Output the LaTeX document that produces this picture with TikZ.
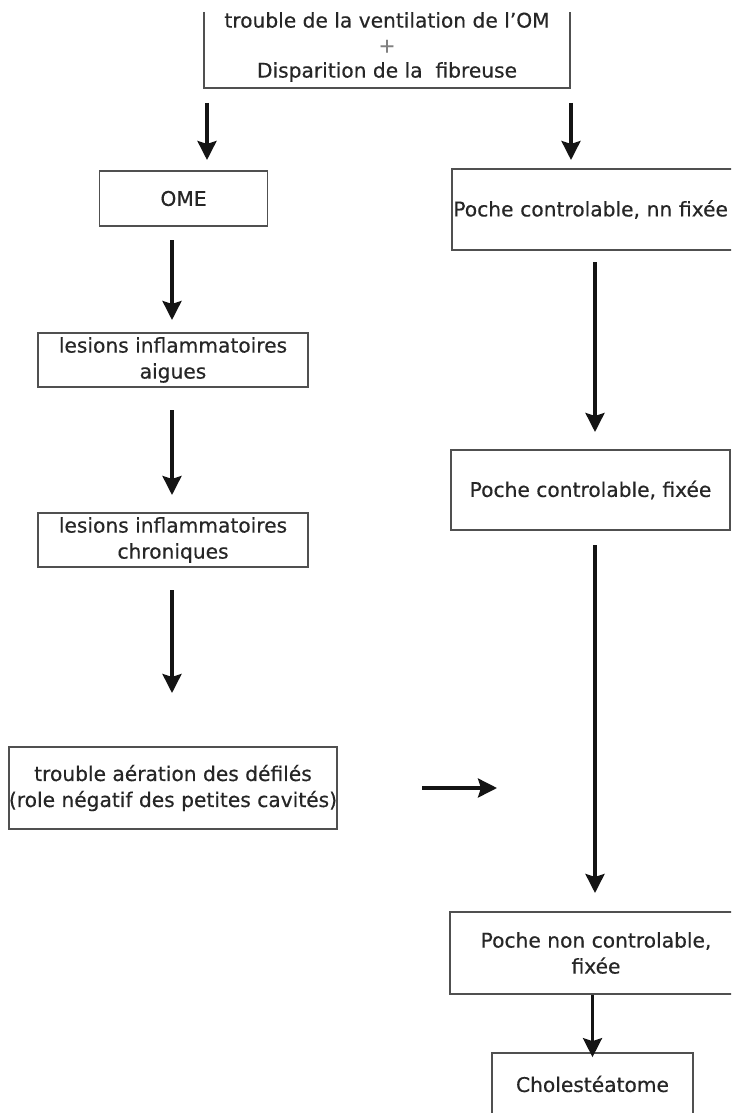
\documentclass[tikz,border=0pt]{standalone}
\usepackage{fontspec}
\setmainfont{DejaVu Sans}[FakeBold=0.4]
\usetikzlibrary{arrows.meta}
\definecolor{boxline}{HTML}{505050}
\definecolor{txt}{HTML}{262626}
\tikzset{
  stepbox/.style={draw=boxline, line width=1.7pt, fill=white, align=center, inner sep=0pt,
    text=txt, font=\fontsize{20.2}{26}\selectfont},
  arr/.style={line width=3.2pt, -{Stealth[length=19pt,width=19pt,inset=3pt]}, black!92},
}
\begin{document}
\begin{tikzpicture}[x=1pt,y=-1pt]
\useasboundingbox (0,0) rectangle (731,1113);
\clip (0,0) rectangle (731,1113);
% top box (open at the top)
\node[text=txt, font=\fontsize{20.2}{25}\selectfont, align=center] (top) at (387,47)
  {trouble de la ventilation de l’OM\\{\color{gray}+}\\Disparition de la\ \ fibreuse};
\draw[boxline, line width=1.7pt] (204,12) -- (204,88) -- (570,88) -- (570,12);
% left column
\node[stepbox, minimum width=168pt, minimum height=55pt] (ome) at (183.5,198.5) {OME};
\node[stepbox, minimum width=270pt, minimum height=54pt] (aig) at (173,360) {lesions inflammatoires\\aigues};
\node[stepbox, minimum width=270pt, minimum height=54pt] (chr) at (173,540) {lesions inflammatoires\\chroniques};
\node[stepbox, minimum width=322pt, minimum height=82pt] (aer) at (173,788) {trouble aération des défilés\\(role négatif des petites cavités)};
% right column
\node[stepbox, anchor=west, text width=318pt, minimum height=81pt, align=left, inner xsep=1.5pt] (p1) at (451,209.5) {Poche controlable, nn fixée};
\node[stepbox, minimum width=279pt, minimum height=80pt] (p2) at (590.5,490) {Poche controlable, fixée};
\node[stepbox, minimum width=292pt, minimum height=82pt] (p3) at (596,953) {Poche non controlable,\\fixée};
\node[stepbox, minimum width=201pt, minimum height=62pt] (cho) at (592.5,1084) {Cholestéatome};
% arrow end points
\coordinate (a1s) at (207,103); \coordinate (a1e) at (207,160);
\coordinate (a2s) at (571,103); \coordinate (a2e) at (571,160);
\coordinate (a3s) at (172,240); \coordinate (a3e) at (172,320);
\coordinate (a4s) at (172,410); \coordinate (a4e) at (172,495);
\coordinate (a5s) at (172,590); \coordinate (a5e) at (172,693);
\coordinate (hs) at (422,788); \coordinate (he) at (497,788);
\coordinate (b1s) at (595,262); \coordinate (b1e) at (595,432);
\coordinate (b2s) at (595,545); \coordinate (b2e) at (595,893);
\draw[arr] (a1s) -- (a1e);
\draw[arr] (a2s) -- (a2e);
\draw[arr] (a3s) -- (a3e);
\draw[arr] (a4s) -- (a4e);
\draw[arr] (a5s) -- (a5e);
\draw[arr] (hs) -- (he);
\draw[arr] (b1s) -- (b1e);
\draw[arr] (b2s) -- (b2e);
\draw[arr] (p3.south -| cho.north) -- ([yshift=-5pt]cho.north);
\end{tikzpicture}
\end{document}
